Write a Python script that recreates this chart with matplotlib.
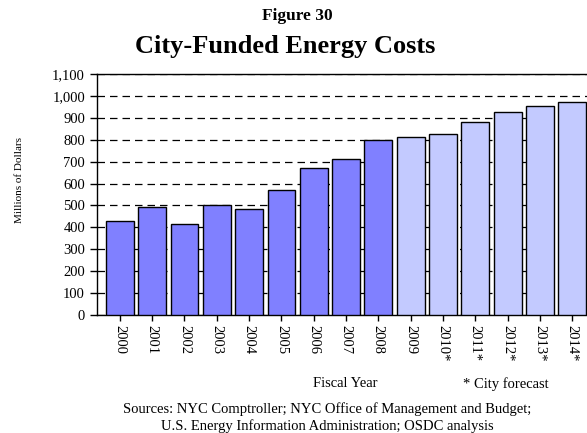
import numpy as np
import matplotlib.pyplot as plt
from matplotlib.ticker import FuncFormatter

# data
years = ['2000', '2001', '2002', '2003', '2004', '2005', '2006', '2007',
         '2008', '2009', '2010*', '2011*', '2012*', '2013*', '2014*']
costs = [430, 495, 415, 501, 484, 571, 669, 714, 797, 811, 824, 881, 925, 956, 972]
forecast = [False] * 9 + [True] * 6

plt.rcParams['font.family'] = ['Liberation Serif', 'DejaVu Serif']

fig = plt.figure(figsize=(5.87, 4.33), dpi=100)
ax = fig.add_axes([0.165, 0.2725, 0.849, 0.5566])

x = np.arange(len(years))
colors = ['#C3CAFF' if f else '#8080FF' for f in forecast]
ax.bar(x, costs, width=0.86, color=colors, edgecolor='black', linewidth=1.0, zorder=3)

ax.set_xlim(-0.71, len(years) - 1 + 0.71)
ax.set_ylim(0, 1100)
ax.set_yticks(range(0, 1101, 100))
ax.yaxis.set_major_formatter(FuncFormatter(lambda v, p: f'{int(v):,}'))
ax.yaxis.grid(True, linestyle=(0, (6, 4)), color='black', linewidth=0.9, zorder=0)

ax.set_xticks(x)
ax.set_xticklabels(years, rotation=270, fontsize=10.5)
ax.tick_params(axis='y', labelsize=10.5, direction='out', length=5, width=1)
ax.tick_params(axis='x', direction='out', length=4, width=1, pad=3)

ax.spines['right'].set_visible(False)
for s in ['left', 'top', 'bottom']:
    ax.spines[s].set_linewidth(1.0)

fig.text(0.506, 0.962, 'Figure 30', ha='center', va='center', fontsize=12.5, fontweight='bold')
fig.text(0.486, 0.893, 'City-Funded Energy Costs', ha='center', va='center', fontsize=19, fontweight='bold')
fig.text(0.034, 0.584, 'Millions of Dollars', ha='center', va='center', rotation=90, fontsize=8)
fig.text(0.588, 0.114, 'Fiscal Year', ha='center', va='center', fontsize=10.5)
fig.text(0.789, 0.114, '* City forecast', ha='left', va='center', fontsize=10.5)
fig.text(0.557, 0.036, 'Sources: NYC Comptroller; NYC Office of Management and Budget;\nU.S. Energy Information Administration; OSDC analysis',
         ha='center', va='center', fontsize=10.5, linespacing=1.3)

fig.savefig('out.png', dpi=100)
